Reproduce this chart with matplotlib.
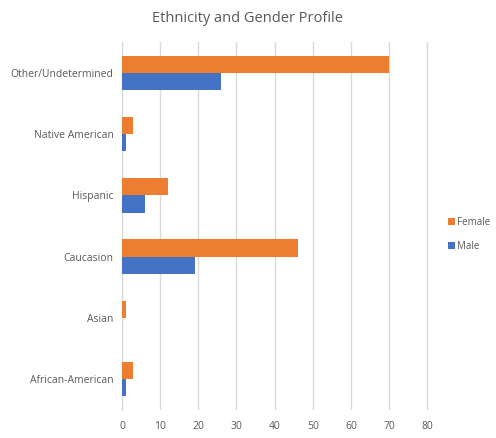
import numpy as np
import matplotlib
matplotlib.use("Agg")
import matplotlib.pyplot as plt

# ---------------------------------------------------------------------------
# Data
# ---------------------------------------------------------------------------
categories = ["African-American", "Asian", "Caucasion", "Hispanic",
              "Native American", "Other/Undetermined"]
female = [3, 1, 46, 12, 3, 70]
male = [1, 0, 19, 6, 1, 26]
x_ticks = [0, 10, 20, 30, 40, 50, 60, 70, 80]

FEMALE_COLOR = "#ED7D31"
MALE_COLOR = "#4472C4"
TEXT_COLOR = "#595959"
GRID_COLOR = "#D9D9D9"

plt.rcParams["font.family"] = ["Open Sans", "DejaVu Sans"]

fig = plt.figure(figsize=(4.96, 4.38), dpi=100)
ax = fig.add_axes([0.246, 0.064, 0.62, 0.84])

y = np.arange(len(categories))
h = 0.28
ax.barh(y + h / 2, female, h, color=FEMALE_COLOR, label="Female", zorder=3)
ax.barh(y - h / 2, male, h, color=MALE_COLOR, label="Male", zorder=3)

ax.set_xlim(0, 80.6)
ax.set_ylim(-0.5, len(categories) - 0.5)
ax.set_xticks(x_ticks)
ax.set_yticks(y)
ax.set_yticklabels(categories)
ax.tick_params(axis="both", length=0, labelsize=7.5, colors=TEXT_COLOR)
ax.tick_params(axis="x", pad=8)
ax.tick_params(axis="y", pad=6)
ax.xaxis.grid(True, color=GRID_COLOR, linewidth=1, zorder=0)
for s in ["top", "right", "bottom"]:
    ax.spines[s].set_visible(False)
ax.spines["left"].set_color(GRID_COLOR)

fig.suptitle("Ethnicity and Gender Profile", x=0.5, y=0.975,
             fontsize=10.5, color=TEXT_COLOR)

handles, labels = ax.get_legend_handles_labels()
fig.legend(handles, labels, loc="center left", bbox_to_anchor=(0.885, 0.465),
           frameon=False, fontsize=7, handlelength=0.7, handleheight=0.7,
           handletextpad=0.3, labelspacing=1.3, labelcolor=TEXT_COLOR)

fig.savefig("out.png", dpi=100)
